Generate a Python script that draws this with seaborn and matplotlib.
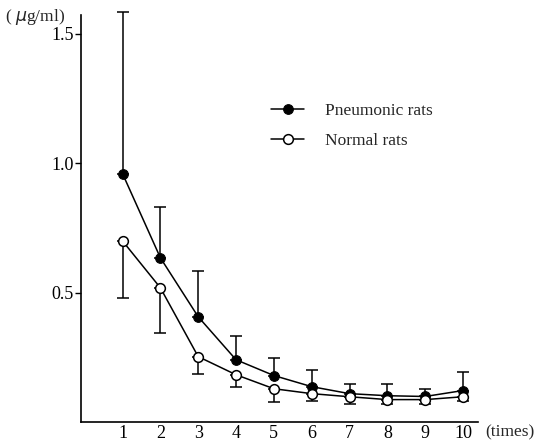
import matplotlib
matplotlib.use("Agg")
import matplotlib.pyplot as plt
import seaborn as sns
import pandas as pd

times = [1, 2, 3, 4, 5, 6, 7, 8, 9, 10]
pneumonic = [0.96, 0.635, 0.407, 0.241, 0.180, 0.137, 0.110, 0.102, 0.099, 0.122]
pneumonic_upper = [1.585, 0.832, 0.585, 0.334, 0.249, 0.203, 0.149, 0.149, 0.129, 0.195]
normal = [0.700, 0.519, 0.253, 0.183, 0.129, 0.110, 0.098, 0.087, 0.087, 0.098]
normal_lower = [0.480, 0.346, 0.187, 0.137, 0.079, 0.083, 0.071, 0.071, 0.071, 0.083]

df = pd.DataFrame({
    "time": times * 2,
    "conc": pneumonic + normal,
    "group": ["Pneumonic rats"] * 10 + ["Normal rats"] * 10,
})

sns.set_theme(style="white")
plt.rcParams["font.family"] = ["Liberation Serif", "DejaVu Serif"]

fig = plt.figure(figsize=(5.36, 4.42), dpi=100)
ax = fig.add_axes([0.151, 0.045, 0.741, 0.921])

# one-sided error bars: up for pneumonic, down for normal
p_err = [[0] * 10, [u - v for u, v in zip(pneumonic_upper, pneumonic)]]
n_err = [[v - l for v, l in zip(normal, normal_lower)], [0] * 10]
for y, e in [(pneumonic, p_err), (normal, n_err)]:
    eb = ax.errorbar(times, y, yerr=e, fmt="none", ecolor="black",
                     elinewidth=1.1, capsize=4, capthick=1.1, zorder=1)
    for art in eb.lines[1] + eb.lines[2]:
        art.set_clip_on(False)

sns.lineplot(data=df[df.group == "Pneumonic rats"], x="time", y="conc",
             color="black", marker="o", markersize=7, markerfacecolor="black",
             markeredgecolor="black", linewidth=1.1, ax=ax,
             label="Pneumonic rats", zorder=3)
sns.lineplot(data=df[df.group == "Normal rats"], x="time", y="conc",
             color="black", marker="o", markersize=7, markerfacecolor="white",
             markeredgecolor="black", markeredgewidth=1.1, linewidth=1.1,
             ax=ax, label="Normal rats", zorder=3)

ax.set_xlim(-0.1, 10.4)
ax.set_ylim(0, 1.573)
ax.set_xticks(times)
ax.set_yticks([0.5, 1.0, 1.5])
ax.set_yticklabels(["0.5", "1.0", "1.5"])
ax.set_xlabel("")
ax.set_ylabel("")
for s in ["top", "right"]:
    ax.spines[s].set_visible(False)
for s in ["left", "bottom"]:
    ax.spines[s].set_color("black")
    ax.spines[s].set_linewidth(1.2)
ax.tick_params(axis="y", direction="out", length=4, width=1, pad=1,
               labelsize=13, colors="black", left=True)
ax.tick_params(axis="x", length=0, pad=2, labelsize=13, colors="black")

fig.text(0.01, 0.962, "( $\\mu$g/ml)", fontsize=12.5, ha="left", va="center")
fig.text(0.905, 0.022, "(times)", fontsize=12.5, ha="left", va="center")

leg = ax.legend(loc="upper left", bbox_to_anchor=(0.44, 0.822), frameon=False,
                fontsize=12.5, handlelength=1.9, handletextpad=1.2,
                labelspacing=0.8)

fig.savefig("out.png", dpi=100)
